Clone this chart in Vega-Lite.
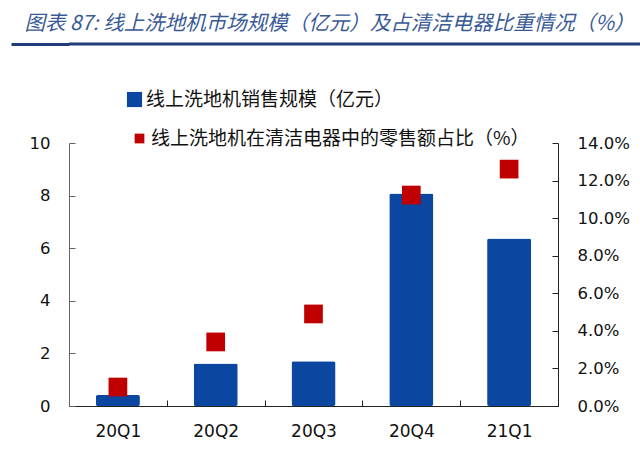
{
  "$schema": "https://vega.github.io/schema/vega-lite/v6.json",
  "padding": {"left": 9, "top": 14, "right": 0, "bottom": 0},
  "background": "white",
  "title": {
    "text": "图表 87:  线上洗地机市场规模（亿元）及占清洁电器比重情况（%）",
    "anchor": "start",
    "font": "Noto Sans CJK SC",
    "fontSize": 20.5,
    "fontStyle": "italic",
    "fontWeight": "normal",
    "color": "#3a5a96",
    "dx": 15,
    "offset": 8
  },
  "bounds": "flush",
  "spacing": 99,
  "config": {"view": {"stroke": null}},
  "vconcat": [
    {
      "width": 573,
      "height": 1,
      "data": {"values": [{"v": 0}]},
      "mark": {"type": "rule", "color": "#1f3d78", "strokeWidth": 3},
      "encoding": {
        "y": {
          "field": "v",
          "type": "quantitative",
          "scale": {"domain": [0, 1]},
          "axis": {"values": [0], "labels": false, "domain": false, "grid": false, "title": null, "tickSize": 58, "tickWidth": 3, "tickColor": "#1f3d78", "minExtent": 0}
        }
      }
    },
    {
      "width": 489,
      "height": 263,
      "data": {
        "values": [
          {"quarter": "20Q1", "sales": 0.42, "share": 0.0101},
          {"quarter": "20Q2", "sales": 1.62, "share": 0.0341},
          {"quarter": "20Q3", "sales": 1.70, "share": 0.0490},
          {"quarter": "20Q4", "sales": 8.08, "share": 0.1123},
          {"quarter": "21Q1", "sales": 6.37, "share": 0.1261}
        ]
      },
      "encoding": {
        "x": {
          "field": "quarter",
          "type": "nominal",
          "sort": null,
          "scale": {"paddingInner": 0, "paddingOuter": 0},
          "axis": {
            "title": null,
            "labelAngle": 0,
            "tickBand": "extent",
            "tickSize": -6,
            "tickColor": "#222222",
            "domainColor": "#222222",
            "labelFont": "DejaVu Sans",
            "labelFontSize": 17,
            "labelColor": "#111111",
            "labelPadding": 23,
            "labelBaseline": "top"
          }
        }
      },
      "layer": [
        {
          "mark": {"type": "bar", "width": {"band": 0.45}, "cornerRadius": 2},
          "encoding": {
            "y": {
              "field": "sales",
              "type": "quantitative",
              "scale": {"domain": [0, 10], "nice": false},
              "axis": {
                "orient": "left",
                "title": null,
                "values": [0, 2, 4, 6, 8, 10],
                "format": "d",
                "grid": false,
                "tickSize": -6,
                "tickColor": "#666666",
                "domainColor": "#666666",
                "labelFont": "DejaVu Sans",
                "labelFontSize": 16.5,
                "labelColor": "#111111",
                "labelPadding": 25
              }
            },
            "color": {
              "datum": "线上洗地机销售规模（亿元）",
              "type": "nominal",
              "scale": {"range": ["#0b46a0"]},
              "legend": {
                "orient": "none",
                "legendX": 56,
                "legendY": 47,
                "title": null,
                "symbolType": "square",
                "symbolSize": 230,
                "symbolStrokeWidth": 0,
                "labelFont": "Noto Sans CJK SC",
                "labelFontSize": 19,
                "labelColor": "#111111",
                "labelOffset": 2,
                "labelLimit": 600,
                "padding": 0
              }
            }
          }
        },
        {
          "mark": {"type": "point", "shape": "square", "filled": true, "size": 350, "opacity": 1, "strokeWidth": 0},
          "encoding": {
            "y": {
              "field": "share",
              "type": "quantitative",
              "scale": {"domain": [0, 0.14], "nice": false},
              "axis": {
                "orient": "right",
                "title": null,
                "values": [0, 0.02, 0.04, 0.06, 0.08, 0.1, 0.12, 0.14],
                "format": ".1%",
                "grid": false,
                "tickSize": -6,
                "tickColor": "#222222",
                "domainColor": "#222222",
                "labelFont": "DejaVu Sans",
                "labelFontSize": 16.5,
                "labelColor": "#111111",
                "labelPadding": 25
              }
            },
            "fill": {
              "datum": "线上洗地机在清洁电器中的零售额占比（%）",
              "type": "nominal",
              "scale": {"range": ["#c00000"]},
              "legend": {
                "orient": "none",
                "legendX": 61,
                "legendY": 86,
                "title": null,
                "symbolType": "square",
                "symbolSize": 95,
                "symbolStrokeWidth": 0,
                "labelFont": "Noto Sans CJK SC",
                "labelFontSize": 19,
                "labelColor": "#111111",
                "labelOffset": 2,
                "labelLimit": 600,
                "padding": 0
              }
            }
          }
        }
      ],
      "resolve": {"scale": {"y": "independent"}}
    }
  ]
}
